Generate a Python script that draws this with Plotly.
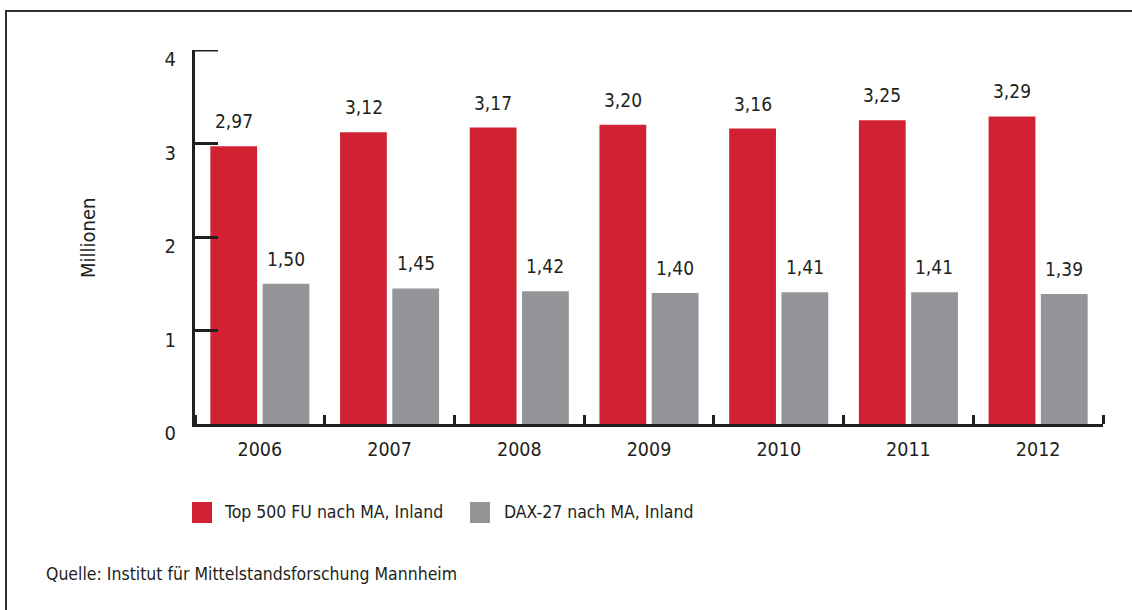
import plotly.graph_objects as go

years = ["2006", "2007", "2008", "2009", "2010", "2011", "2012"]
top500 = [2.97, 3.12, 3.17, 3.20, 3.16, 3.25, 3.29]
dax27 = [1.50, 1.45, 1.42, 1.40, 1.41, 1.41, 1.39]
series_names = ["Top 500 FU nach MA, Inland", "DAX-27 nach MA, Inland"]
y_ticks = [0, 1, 2, 3, 4]

RED = "#d12234"
GREY = "#939598"
INK = "#231f20"
FONT = "DejaVu Sans Condensed, Lato, sans-serif"

W, H = 1132, 610
L, R, T, B = 195, 29, 50, 186
PW, PH = W - L - R, H - T - B
YMAX = 4


def px(x):
    return (x - L) / PW


def py(y):
    return (H - B - y) / PH


xi = list(range(len(years)))
bounds = [i - 0.5 for i in range(len(years) + 1)]

fig = go.Figure()
fig.add_trace(go.Bar(x=xi, y=top500, name=series_names[0], marker=dict(color=RED, line=dict(width=0)),
                     showlegend=False))
fig.add_trace(go.Bar(x=xi, y=dax27, name=series_names[1], marker=dict(color=GREY, line=dict(width=0)),
                     showlegend=False))

ann = []
for i, v in zip(xi, top500):
    ann.append(dict(x=i, y=v, xref="x", yref="y", text=f"{v:.2f}".replace(".", ","), showarrow=False,
                    xshift=-26, yshift=25, yanchor="middle", font=dict(size=19, color=INK, family=FONT)))
for i, v in zip(xi, dax27):
    ann.append(dict(x=i, y=v, xref="x", yref="y", text=f"{v:.2f}".replace(".", ","), showarrow=False,
                    xshift=26, yshift=25, yanchor="middle", font=dict(size=19, color=INK, family=FONT)))

ann.append(dict(x=px(88), y=py(238), xref="paper", yref="paper", text="Millionen", textangle=-90,
                showarrow=False, xanchor="center", yanchor="middle", font=dict(size=20, color=INK, family=FONT)))
shapes = []
leg = [(192, RED, 222, series_names[0]), (470, GREY, 502, series_names[1])]
for sx, col, tx, name in leg:
    shapes.append(dict(type="rect", xref="paper", yref="paper", x0=px(sx), x1=px(sx + 20), y0=py(523), y1=py(502),
                       fillcolor=col, line=dict(width=0)))
    ann.append(dict(x=px(tx), y=py(512), xref="paper", yref="paper", text=name, showarrow=False,
                    xanchor="left", yanchor="middle", font=dict(size=17.5, color=INK, family=FONT)))
ann.append(dict(x=px(44), y=py(574), xref="paper", yref="paper", text="Quelle: Institut für Mittelstandsforschung Mannheim",
                showarrow=False, xanchor="left", yanchor="middle", font=dict(size=17.5, color=INK, family=FONT)))
shapes.append(dict(type="rect", xref="paper", yref="paper", x0=px(6), x1=px(W + 20), y0=py(H + 20), y1=py(11),
                   line=dict(color="#333333", width=2), fillcolor="rgba(0,0,0,0)", layer="below"))
# top tick of the y axis (plotly drops the tick sitting on the range edge)
shapes.append(dict(type="line", xref="paper", yref="y", x0=px(L - 1.5), x1=px(L + 23), y0=y_ticks[-1], y1=y_ticks[-1],
                   line=dict(color=INK, width=3), layer="above"))

fig.update_layout(
    width=W, height=H,
    margin=dict(l=L, r=R, t=T, b=B, pad=0),
    paper_bgcolor="white", plot_bgcolor="white",
    barmode="group", bargap=0.194, bargroupgap=0.105,
    showlegend=False,
    font=dict(family=FONT, color=INK),
    annotations=ann, shapes=shapes,
    xaxis=dict(range=[-0.5, len(years) - 0.5], tickvals=xi, ticktext=years, showgrid=False, zeroline=False,
               showline=True, linecolor=INK, linewidth=3, ticks="",
               minor=dict(tickvals=bounds, ticks="inside", ticklen=9, tickwidth=3, tickcolor=INK, showgrid=False),
               tickfont=dict(size=19.5, color=INK, family=FONT), ticklabelstandoff=6),
    yaxis=dict(range=[0, YMAX], tickvals=y_ticks, ticktext=[str(t) for t in y_ticks], showgrid=False, zeroline=False,
               showline=True, linecolor=INK, linewidth=3, ticks="inside", ticklen=23, tickwidth=3, tickcolor=INK,
               tickfont=dict(size=20, color=INK, family=FONT), ticklabelstandoff=12, ticklabelshift=9),
)

fig.write_html("out.html", config={"displayModeBar": False},
               post_script="document.body.style.margin='0';")
